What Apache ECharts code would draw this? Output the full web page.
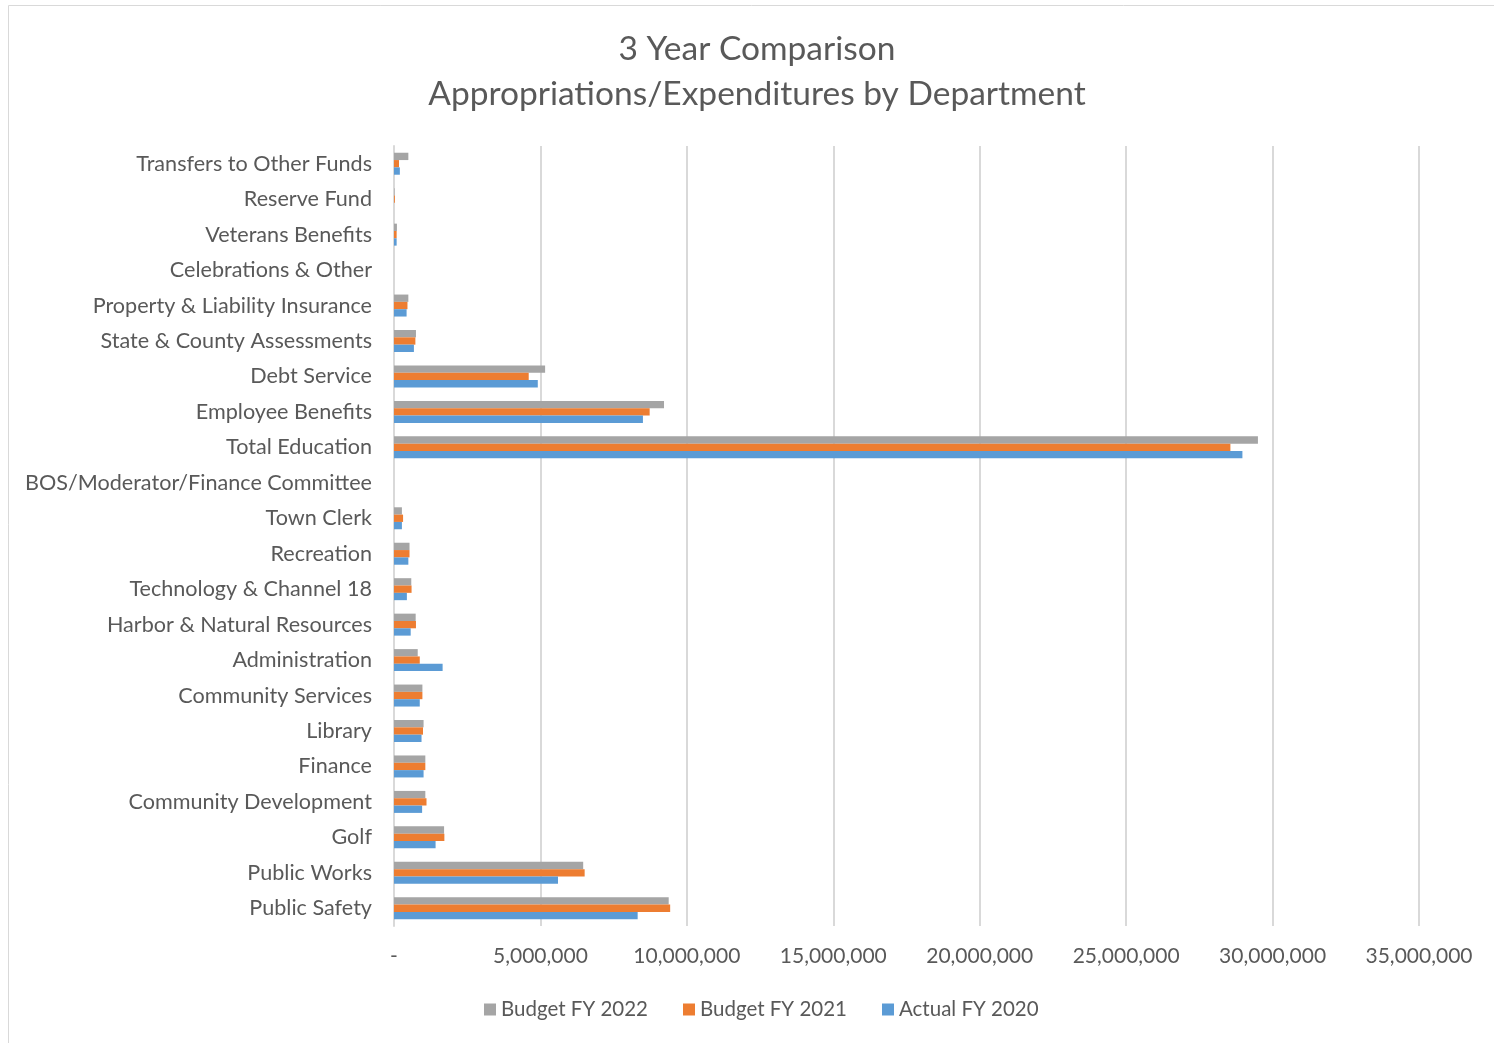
<!DOCTYPE html>
<html>
<head>
<meta charset="utf-8">
<script src="https://cdn.jsdelivr.net/npm/echarts@6/dist/echarts.min.js"></script>
<style>
  html, body { margin: 0; padding: 0; background: #fff; }
  #main { width: 1494px; height: 1043px; }
</style>
</head>
<body>
<div id="main"></div>
<script>
// departments, bottom to top
const departments = [
  "Public Safety", "Public Works", "Golf", "Community Development", "Finance",
  "Library", "Community Services", "Administration", "Harbor & Natural Resources",
  "Technology & Channel 18", "Recreation", "Town Clerk", "BOS/Moderator/Finance Committee",
  "Total Education", "Employee Benefits", "Debt Service", "State & County Assessments",
  "Property & Liability Insurance", "Celebrations & Other", "Veterans Benefits",
  "Reserve Fund", "Transfers to Other Funds"
];
const seriesNames = ["Budget FY 2022", "Budget FY 2021", "Actual FY 2020"];
const budget2022 = [
  9380000, 6460000, 1710000, 1070000, 1070000,
  1010000, 970000, 810000, 740000,
  590000, 530000, 270000, 0,
  29500000, 9220000, 5160000, 750000,
  490000, 0, 100000,
  20000, 490000
];
const budget2021 = [
  9430000, 6510000, 1720000, 1110000, 1070000,
  990000, 970000, 880000, 750000,
  600000, 530000, 310000, 0,
  28560000, 8730000, 4600000, 730000,
  460000, 0, 90000,
  30000, 170000
];
const actual2020 = [
  8320000, 5600000, 1420000, 960000, 1010000,
  940000, 880000, 1660000, 570000,
  440000, 490000, 270000, 0,
  28970000, 8500000, 4910000, 680000,
  430000, 0, 90000,
  0, 200000
];
const colors = ["#a5a5a5", "#ed7d31", "#5b9bd5"];
const textColor = "#595959";
const font = "Lato";

const chart = echarts.init(document.getElementById("main"));
const values = [budget2022, budget2021, actual2020];
const series = seriesNames.map(function (name, i) {
  return {
    name: name,
    type: "bar",
    data: values[i],
    barGap: "0%",
    barCategoryGap: "38%",
    itemStyle: { color: colors[i] }
  };
});

chart.setOption({
  animation: false,
  color: colors,
  textStyle: { fontFamily: font },
  title: {
    text: "3 Year Comparison\nAppropriations/Expenditures by Department",
    left: 752,
    textAlign: "center",
    top: 22,
    textStyle: {
      color: textColor,
      fontSize: 33.5,
      fontWeight: "normal",
      fontFamily: font,
      lineHeight: 45
    }
  },
  legend: {
    data: seriesNames,
    bottom: 18,
    left: 479,
    itemWidth: 12,
    itemHeight: 12,
    itemGap: 35,
    icon: "rect",
    textStyle: { color: textColor, fontSize: 20.5, fontFamily: font }
  },
  grid: {
    left: 394,
    right: 75,
    top: 146,
    bottom: 117,
    containLabel: false
  },
  xAxis: {
    type: "value",
    min: 0,
    max: 35000000,
    interval: 5000000,
    axisLine: { show: false },
    axisTick: { show: false },
    axisLabel: {
      color: textColor,
      fontSize: 21,
      fontFamily: font,
      margin: 20,
      formatter: function (v) {
        return v === 0 ? "-" : v.toLocaleString("en-US");
      }
    },
    splitLine: { show: true, lineStyle: { color: "#d9d9d9", width: 2 } }
  },
  yAxis: {
    type: "category",
    data: departments,
    axisTick: { show: false },
    axisLine: { show: true, lineStyle: { color: "#d9d9d9", width: 2 } },
    axisLabel: {
      color: textColor,
      fontSize: 21.6,
      fontFamily: font,
      margin: 22,
      interval: 0
    }
  },
  graphic: [{
    type: "rect",
    shape: { x: 8.5, y: 5.5, width: 1500, height: 1050 },
    style: { fill: "none", stroke: "#d9d9d9", lineWidth: 1 },
    silent: true
  }],
  series: series
});
</script>
</body>
</html>
